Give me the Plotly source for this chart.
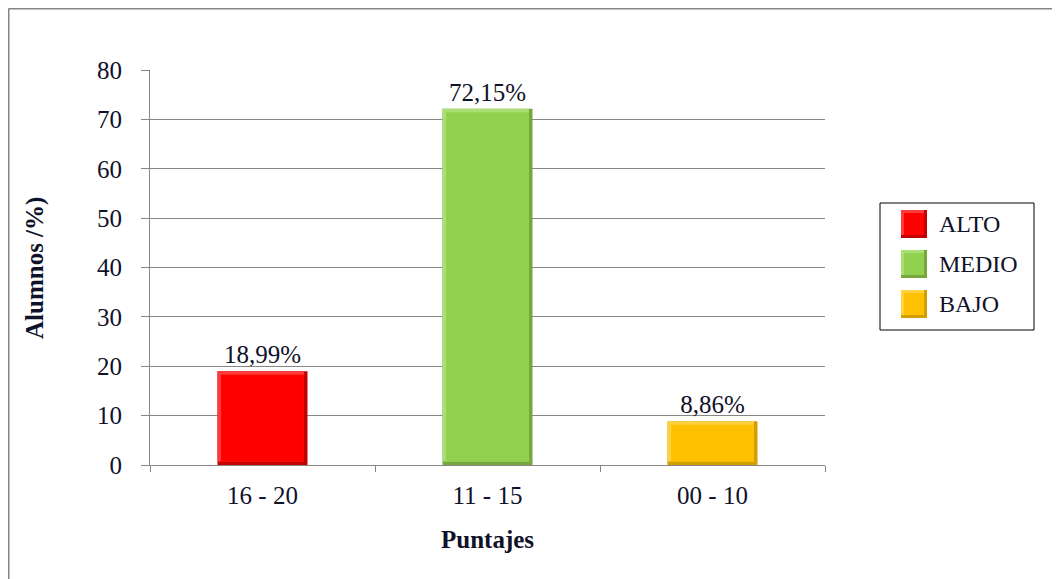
import plotly.graph_objects as go

categorias = ["16 - 20", "11 - 15", "00 - 10"]
niveles = ["ALTO", "MEDIO", "BAJO"]
porcentajes = [18.99, 72.15, 8.86]
colores = ["#ff0000", "#92d050", "#ffc000"]
claros = ["#ff3a3a", "#a9df72", "#ffd040"]
oscuros = ["#c40000", "#76a83e", "#d29e00"]
ticks_y = [0, 10, 20, 30, 40, 50, 60, 70, 80]

FUENTE = "Liberation Serif, Times New Roman, serif"
TEXTO = "#0f1228"
GRIS = "#868686"

ANCHO = 0.4
BORDE_X = 0.016   # ~3.5 px en unidades de categoría
BORDE_Y = 0.7     # ~3.5 px en unidades del eje y

fig = go.Figure()

for cat, niv, val, col, cla, osc in zip(categorias, niveles, porcentajes, colores, claros, oscuros):
    # bisel oscuro inferior derecho
    fig.add_trace(go.Bar(
        x=[cat], y=[val], width=ANCHO, offset=-ANCHO / 2,
        marker=dict(color=osc, line=dict(width=0)),
        text=[val], texttemplate="%{y:.2f}%", textposition="outside",
        textfont=dict(family=FUENTE, size=25, color=TEXTO),
        cliponaxis=False, showlegend=False, name=niv,
    ))
    # bisel claro superior izquierdo
    fig.add_trace(go.Bar(
        x=[cat], y=[val - BORDE_Y], base=BORDE_Y, width=ANCHO - BORDE_X, offset=-ANCHO / 2,
        marker=dict(color=cla, line=dict(width=0)),
        showlegend=False, hoverinfo="skip",
    ))
    # cara principal
    fig.add_trace(go.Bar(
        x=[cat], y=[val - 2 * BORDE_Y], base=BORDE_Y, width=ANCHO - 2 * BORDE_X,
        offset=-ANCHO / 2 + BORDE_X,
        marker=dict(color=col, line=dict(width=0)),
        showlegend=False, hoverinfo="skip",
    ))

# la página añade 8 px de margen alrededor de la figura
fig.update_layout(
    width=1060,
    height=579,
    margin=dict(l=142, r=243, t=62, b=122),
    paper_bgcolor="white",
    plot_bgcolor="white",
    separators=",.",
    barmode="overlay",
    font=dict(family=FUENTE, size=25, color=TEXTO),
)

fig.update_yaxes(
    range=[0, 80],
    tickvals=ticks_y,
    showgrid=True,
    gridcolor=GRIS,
    gridwidth=1,
    showline=True,
    linecolor=GRIS,
    linewidth=1,
    ticks="outside",
    ticklen=8,
    tickcolor=GRIS,
    zeroline=False,
    ticklabelstandoff=14,
    tickfont=dict(family=FUENTE, size=25, color=TEXTO),
)

fig.update_xaxes(
    showline=True,
    linecolor=GRIS,
    linewidth=1,
    ticks="outside",
    tickson="boundaries",
    ticklen=6,
    tickcolor=GRIS,
    ticklabelstandoff=8,
    tickfont=dict(family=FUENTE, size=25, color=TEXTO),
)


def px_x(p):
    return (p - 150) / 675


def px_y(p):
    return (465 - p) / 395


# títulos de ejes
fig.add_annotation(xref="paper", yref="paper", x=px_x(35), y=px_y(268),
                   text="<b>Alumnos /%)</b>", textangle=-90, showarrow=False,
                   xanchor="center", yanchor="middle",
                   font=dict(family=FUENTE, size=25, color=TEXTO))
fig.add_annotation(xref="paper", yref="paper", x=px_x(487), y=px_y(539),
                   text="<b>Puntajes</b>", showarrow=False,
                   xanchor="center", yanchor="middle",
                   font=dict(family=FUENTE, size=25, color=TEXTO))

# marco exterior (bordes superior e izquierdo)
fig.add_shape(type="line", xref="paper", yref="paper",
              x0=px_x(8.5), x1=1.5, y0=px_y(8.5), y1=px_y(8.5),
              line=dict(color=GRIS, width=2))
fig.add_shape(type="line", xref="paper", yref="paper",
              x0=px_x(8.5), x1=px_x(8.5), y0=px_y(8.5), y1=-0.4,
              line=dict(color=GRIS, width=2))

# leyenda dibujada a mano
fig.add_shape(type="rect", xref="paper", yref="paper",
              x0=px_x(880), x1=px_x(1034), y0=px_y(203), y1=px_y(330),
              line=dict(color="#000000", width=1), fillcolor="white")
for i, (niv, col, cla, osc) in enumerate(zip(niveles, colores, claros, oscuros)):
    yc = 224 + i * 40
    fig.add_shape(type="rect", xref="paper", yref="paper",
                  x0=px_x(901), x1=px_x(927), y0=px_y(yc + 14), y1=px_y(yc - 14),
                  line=dict(width=0), fillcolor=osc)
    fig.add_shape(type="rect", xref="paper", yref="paper",
                  x0=px_x(901), x1=px_x(924), y0=px_y(yc + 11), y1=px_y(yc - 14),
                  line=dict(width=0), fillcolor=cla)
    fig.add_shape(type="rect", xref="paper", yref="paper",
                  x0=px_x(904), x1=px_x(924), y0=px_y(yc + 11), y1=px_y(yc - 11),
                  line=dict(width=0), fillcolor=col)
    fig.add_annotation(xref="paper", yref="paper", x=px_x(937), y=px_y(yc),
                       text=niv, showarrow=False, xanchor="left", yanchor="middle",
                       font=dict(family=FUENTE, size=24, color=TEXTO))

fig.write_html("out.html")
